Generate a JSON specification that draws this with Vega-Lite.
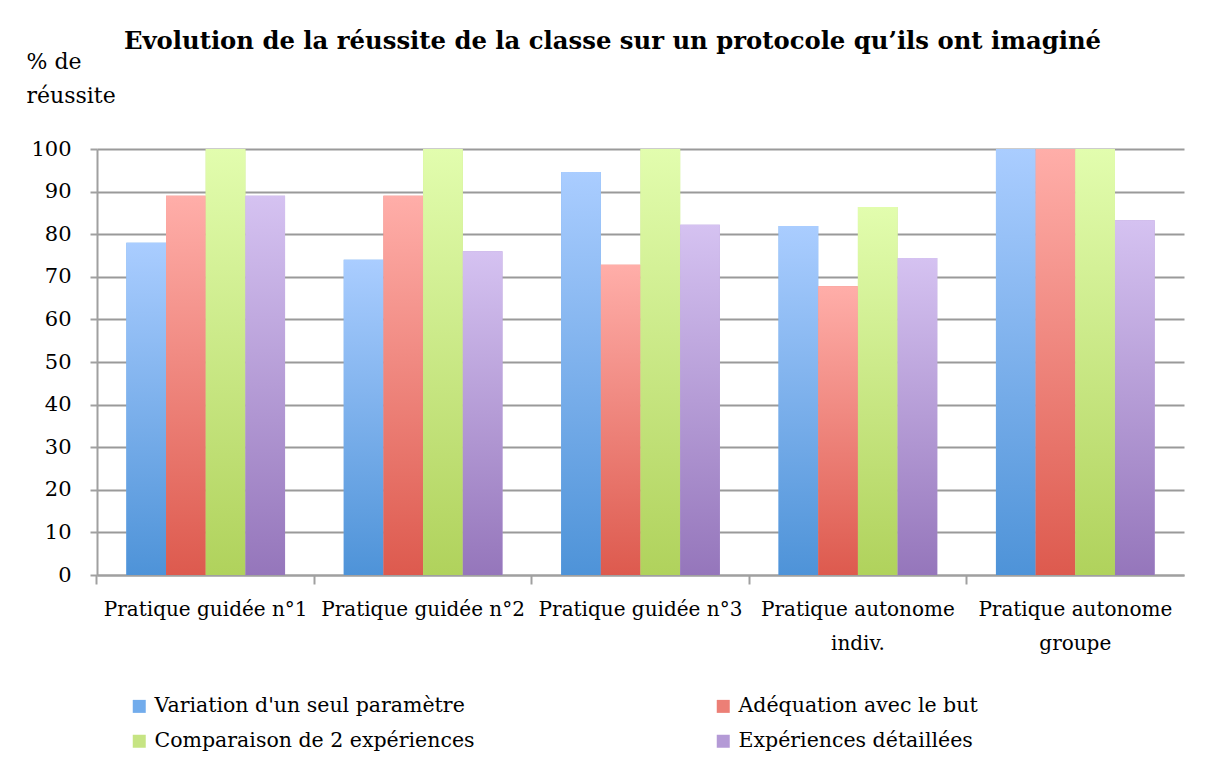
{
  "$schema": "https://vega.github.io/schema/vega-lite/v6.json",
  "width": 1087,
  "height": 426,
  "autosize": {"type": "none"},
  "padding": {"left": 97, "top": 149, "right": 30, "bottom": 188},
  "background": "white",
  "title": {
    "text": "Evolution de la réussite de la classe sur un protocole qu’ils ont imaginé",
    "font": "DejaVu Serif",
    "fontSize": 24.3,
    "fontWeight": "bold",
    "color": "black",
    "anchor": "middle",
    "frame": "group",
    "dx": -28,
    "dy": 4,
    "offset": 0
  },
  "data": {
    "values": [
      {"etape": "Pratique guidée n°1", "critere": "Variation d'un seul paramètre", "reussite": 78},
      {"etape": "Pratique guidée n°1", "critere": "Adéquation avec le but", "reussite": 89},
      {"etape": "Pratique guidée n°1", "critere": "Comparaison de 2 expériences", "reussite": 100},
      {"etape": "Pratique guidée n°1", "critere": "Expériences détaillées", "reussite": 89},
      {"etape": "Pratique guidée n°2", "critere": "Variation d'un seul paramètre", "reussite": 74},
      {"etape": "Pratique guidée n°2", "critere": "Adéquation avec le but", "reussite": 89},
      {"etape": "Pratique guidée n°2", "critere": "Comparaison de 2 expériences", "reussite": 100},
      {"etape": "Pratique guidée n°2", "critere": "Expériences détaillées", "reussite": 76},
      {"etape": "Pratique guidée n°3", "critere": "Variation d'un seul paramètre", "reussite": 94.6},
      {"etape": "Pratique guidée n°3", "critere": "Adéquation avec le but", "reussite": 72.8},
      {"etape": "Pratique guidée n°3", "critere": "Comparaison de 2 expériences", "reussite": 100},
      {"etape": "Pratique guidée n°3", "critere": "Expériences détaillées", "reussite": 82.2},
      {"etape": "Pratique autonome indiv.", "critere": "Variation d'un seul paramètre", "reussite": 81.9},
      {"etape": "Pratique autonome indiv.", "critere": "Adéquation avec le but", "reussite": 67.8},
      {"etape": "Pratique autonome indiv.", "critere": "Comparaison de 2 expériences", "reussite": 86.4},
      {"etape": "Pratique autonome indiv.", "critere": "Expériences détaillées", "reussite": 74.4},
      {"etape": "Pratique autonome groupe", "critere": "Variation d'un seul paramètre", "reussite": 100},
      {"etape": "Pratique autonome groupe", "critere": "Adéquation avec le but", "reussite": 100},
      {"etape": "Pratique autonome groupe", "critere": "Comparaison de 2 expériences", "reussite": 100},
      {"etape": "Pratique autonome groupe", "critere": "Expériences détaillées", "reussite": 83.3}
    ]
  },
  "encoding": {
    "x": {
      "field": "etape",
      "type": "nominal",
      "sort": ["Pratique guidée n°1", "Pratique guidée n°2", "Pratique guidée n°3", "Pratique autonome indiv.", "Pratique autonome groupe"],
      "scale": {"paddingInner": 0.27, "paddingOuter": 0.135},
      "axis": {
        "title": null,
        "labelAngle": 0,
        "labelFont": "DejaVu Serif",
        "labelFontSize": 20,
        "labelColor": "black",
        "labelLimit": 400,
        "labelOverlap": false,
        "labelExpr": "indexof(datum.label, 'autonome') > 0 ? [slice(datum.label, 0, 17), slice(datum.label, 18)] : datum.label",
        "labelLineHeight": 34,
        "labelBaseline": "top",
        "labelPadding": 15,
        "bandPosition": -0.185,
        "tickSize": 9,
        "tickColor": "#a0a0a0",
        "tickWidth": 2,
        "domainColor": "#a0a0a0",
        "domainWidth": 2,
        "grid": false
      }
    },
    "xOffset": {
      "field": "critere",
      "type": "nominal",
      "sort": ["Variation d'un seul paramètre", "Adéquation avec le but", "Comparaison de 2 expériences", "Expériences détaillées"],
      "scale": {"paddingInner": 0, "paddingOuter": 0}
    },
    "y": {
      "field": "reussite",
      "type": "quantitative",
      "scale": {"domain": [0, 100]},
      "axis": {
        "title": ["% de", "réussite"],
        "titleAngle": 0,
        "titleAlign": "left",
        "titleBaseline": "alphabetic",
        "titleX": -71,
        "titleY": -81,
        "titleFont": "DejaVu Serif",
        "titleFontSize": 22,
        "titleFontWeight": "normal",
        "titleColor": "black",
        "titleLineHeight": 34,
        "values": [0, 10, 20, 30, 40, 50, 60, 70, 80, 90, 100],
        "labelFont": "DejaVu Serif",
        "labelFontSize": 21,
        "labelColor": "black",
        "labelPadding": 19,
        "tickSize": 7,
        "tickColor": "#a0a0a0",
        "tickWidth": 2,
        "domainColor": "#a0a0a0",
        "domainWidth": 2,
        "gridColor": "#9a9a9a",
        "gridWidth": 2
      }
    }
  },
  "layer": [
    {
      "mark": {"type": "bar"},
      "encoding": {
        "color": {
          "field": "critere",
          "type": "nominal",
          "scale": {
            "domain": ["Variation d'un seul paramètre", "Comparaison de 2 expériences", "Adéquation avec le but", "Expériences détaillées"],
            "range": ["#72acec", "#c6e483", "#ec7f76", "#b49ad6"]
          },
          "legend": {
            "title": null,
            "orient": "none",
            "legendX": 32,
            "legendY": 547,
            "columns": 2,
            "columnPadding": 238,
            "rowPadding": 14,
            "symbolType": "square",
            "symbolSize": 169,
            "symbolStrokeWidth": 0,
            "labelFont": "DejaVu Serif",
            "labelFontSize": 20.5,
            "labelColor": "black",
            "labelOffset": 5,
            "labelLimit": 500
          }
        }
      }
    },
    {
      "transform": [{"filter": {"field": "critere", "equal": "Variation d'un seul paramètre"}}],
      "mark": {"type": "bar", "fill": {"gradient": "linear", "x1": 0, "y1": 0, "x2": 0, "y2": 1, "stops": [{"offset": 0, "color": "#aacdff"}, {"offset": 1, "color": "#4e93d8"}]}}
    },
    {
      "transform": [{"filter": {"field": "critere", "equal": "Adéquation avec le but"}}],
      "mark": {"type": "bar", "fill": {"gradient": "linear", "x1": 0, "y1": 0, "x2": 0, "y2": 1, "stops": [{"offset": 0, "color": "#ffaea9"}, {"offset": 1, "color": "#dd5a4e"}]}}
    },
    {
      "transform": [{"filter": {"field": "critere", "equal": "Comparaison de 2 expériences"}}],
      "mark": {"type": "bar", "fill": {"gradient": "linear", "x1": 0, "y1": 0, "x2": 0, "y2": 1, "stops": [{"offset": 0, "color": "#e2fdae"}, {"offset": 1, "color": "#b0d25c"}]}}
    },
    {
      "transform": [{"filter": {"field": "critere", "equal": "Expériences détaillées"}}],
      "mark": {"type": "bar", "fill": {"gradient": "linear", "x1": 0, "y1": 0, "x2": 0, "y2": 1, "stops": [{"offset": 0, "color": "#d5c2f1"}, {"offset": 1, "color": "#9576bb"}]}}
    }
  ],
  "config": {"view": {"stroke": null}}
}
